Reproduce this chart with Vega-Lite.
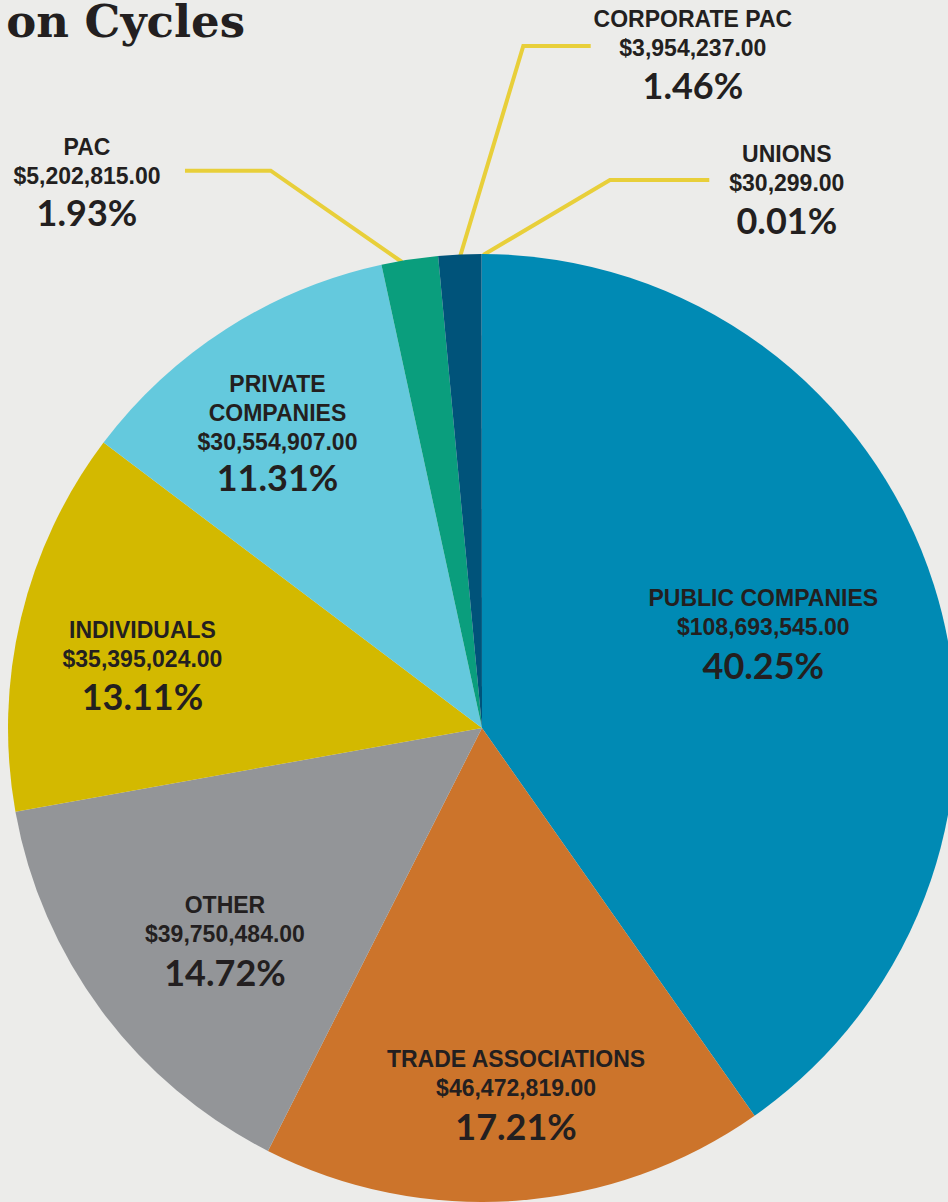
{
  "$schema": "https://vega.github.io/schema/vega-lite/v6.json",
  "width": 964,
  "height": 1456,
  "autosize": "none",
  "padding": {"left": 0, "top": 0, "right": -16, "bottom": -254},
  "background": "#ececea",
  "config": {"view": {"stroke": null}},
  "title": {"text": "on Cycles", "anchor": "start", "frame": "group", "align": "right", "baseline": "alphabetic", "dx": 245, "dy": 86, "font": "DejaVu Serif", "fontWeight": "bold", "fontSize": 45, "color": "#231f20"},
  "datasets": {
    "slices": [
      {"source": "PUBLIC COMPANIES", "amount": 108693545, "share": "40.25%"},
      {"source": "TRADE ASSOCIATIONS", "amount": 46472819, "share": "17.21%"},
      {"source": "OTHER", "amount": 39750484, "share": "14.72%"},
      {"source": "INDIVIDUALS", "amount": 35395024, "share": "13.11%"},
      {"source": "PRIVATE COMPANIES", "amount": 30554907, "share": "11.31%"},
      {"source": "PAC", "amount": 5202815, "share": "1.93%"},
      {"source": "CORPORATE PAC", "amount": 3954237, "share": "1.46%"},
      {"source": "UNIONS", "amount": 30299, "share": "0.01%"}
    ],
    "leaders": [
      {"leader": "PAC", "step": 1, "nx": -0.6266, "ny": 1.1757},
      {"leader": "PAC", "step": 2, "nx": -0.4458, "ny": 1.1757},
      {"leader": "PAC", "step": 3, "nx": -0.1688, "ny": 0.9831},
      {"leader": "CORPORATE PAC", "step": 1, "nx": 0.2293, "ny": 1.4388},
      {"leader": "CORPORATE PAC", "step": 2, "nx": 0.0871, "ny": 1.4388},
      {"leader": "CORPORATE PAC", "step": 3, "nx": -0.0464, "ny": 0.9943},
      {"leader": "UNIONS", "step": 1, "nx": 0.4795, "ny": 1.1561},
      {"leader": "UNIONS", "step": 2, "nx": 0.27, "ny": 1.1561},
      {"leader": "UNIONS", "step": 3, "nx": 0.0027, "ny": 0.9979}
    ]
  },
  "layer": [
    {
      "data": {"name": "leaders"},
      "mark": {"type": "line", "color": "#e8cf3a", "strokeWidth": 4, "strokeCap": "butt", "strokeJoin": "miter"},
      "encoding": {
        "x": {"field": "nx", "type": "quantitative", "scale": {"domain": [-1.01688, 1.01688], "nice": false, "zero": false}, "axis": null},
        "y": {"field": "ny", "type": "quantitative", "scale": {"domain": [-1.53586, 1.53586], "nice": false, "zero": false}, "axis": null},
        "detail": {"field": "leader", "type": "nominal"},
        "order": {"field": "step", "type": "quantitative"}
      }
    },
    {
      "data": {"name": "slices"},
      "encoding": {
        "theta": {"field": "amount", "type": "quantitative", "stack": true},
        "order": {"field": "amount", "type": "quantitative", "sort": "descending"},
        "detail": {"field": "source", "type": "nominal"}
      },
      "layer": [
        {
          "mark": {"type": "arc", "outerRadius": 474, "stroke": null},
          "encoding": {
            "color": {"field": "source", "type": "nominal", "legend": null,
              "scale": {"domain": ["PUBLIC COMPANIES", "TRADE ASSOCIATIONS", "OTHER", "INDIVIDUALS", "PRIVATE COMPANIES", "PAC", "CORPORATE PAC", "UNIONS"],
                        "range": ["#008ab4", "#cc742b", "#939598", "#d3b900", "#64c9dd", "#0a9e7d", "#00537a", "#1a7fa8"]}}
          }
        },

        {"mark": {"type": "text", "radius": 298.6, "dx": -3.4, "dy": -39.3, "font": "Liberation Sans", "fontWeight": "bold", "fontSize": 23, "color": "#231f20", "baseline": "middle"},
         "encoding": {"text": {"condition": {"test": "datum.source === 'PUBLIC COMPANIES'", "field": "source", "type": "nominal"}, "value": ""}}},
        {"mark": {"type": "text", "radius": 298.6, "dx": -3.4, "dy": -10.3, "font": "Liberation Sans", "fontWeight": "bold", "fontSize": 23, "color": "#231f20", "baseline": "middle"},
         "encoding": {"text": {"condition": {"test": "datum.source === 'PUBLIC COMPANIES'", "field": "amount", "type": "quantitative", "format": "$,.2f"}, "value": ""}}},
        {"mark": {"type": "text", "radius": 298.6, "dx": -3.4, "dy": 29.7, "font": "Lato", "fontWeight": "bold", "fontSize": 36, "color": "#231f20", "baseline": "middle"},
         "encoding": {"text": {"condition": {"test": "datum.source === 'PUBLIC COMPANIES'", "field": "share", "type": "nominal"}, "value": ""}}},

        {"mark": {"type": "text", "radius": 362.9, "dx": 7.9, "dy": -29.7, "font": "Liberation Sans", "fontWeight": "bold", "fontSize": 23, "color": "#231f20", "baseline": "middle"},
         "encoding": {"text": {"condition": {"test": "datum.source === 'TRADE ASSOCIATIONS'", "field": "source", "type": "nominal"}, "value": ""}}},
        {"mark": {"type": "text", "radius": 362.9, "dx": 7.9, "dy": -0.7, "font": "Liberation Sans", "fontWeight": "bold", "fontSize": 23, "color": "#231f20", "baseline": "middle"},
         "encoding": {"text": {"condition": {"test": "datum.source === 'TRADE ASSOCIATIONS'", "field": "amount", "type": "quantitative", "format": "$,.2f"}, "value": ""}}},
        {"mark": {"type": "text", "radius": 362.9, "dx": 7.9, "dy": 39.3, "font": "Lato", "fontWeight": "bold", "fontSize": 36, "color": "#231f20", "baseline": "middle"},
         "encoding": {"text": {"condition": {"test": "datum.source === 'TRADE ASSOCIATIONS'", "field": "share", "type": "nominal"}, "value": ""}}},

        {"mark": {"type": "text", "radius": 330, "dx": 7.7, "dy": -19.1, "font": "Liberation Sans", "fontWeight": "bold", "fontSize": 23, "color": "#231f20", "baseline": "middle"},
         "encoding": {"text": {"condition": {"test": "datum.source === 'OTHER'", "field": "source", "type": "nominal"}, "value": ""}}},
        {"mark": {"type": "text", "radius": 330, "dx": 7.7, "dy": 9.9, "font": "Liberation Sans", "fontWeight": "bold", "fontSize": 23, "color": "#231f20", "baseline": "middle"},
         "encoding": {"text": {"condition": {"test": "datum.source === 'OTHER'", "field": "amount", "type": "quantitative", "format": "$,.2f"}, "value": ""}}},
        {"mark": {"type": "text", "radius": 330, "dx": 7.7, "dy": 49.9, "font": "Lato", "fontWeight": "bold", "fontSize": 36, "color": "#231f20", "baseline": "middle"},
         "encoding": {"text": {"condition": {"test": "datum.source === 'OTHER'", "field": "share", "type": "nominal"}, "value": ""}}},

        {"mark": {"type": "text", "radius": 346.2, "dx": -2.8, "dy": -16.5, "font": "Liberation Sans", "fontWeight": "bold", "fontSize": 23, "color": "#231f20", "baseline": "middle"},
         "encoding": {"text": {"condition": {"test": "datum.source === 'INDIVIDUALS'", "field": "source", "type": "nominal"}, "value": ""}}},
        {"mark": {"type": "text", "radius": 346.2, "dx": -2.8, "dy": 12.5, "font": "Liberation Sans", "fontWeight": "bold", "fontSize": 23, "color": "#231f20", "baseline": "middle"},
         "encoding": {"text": {"condition": {"test": "datum.source === 'INDIVIDUALS'", "field": "amount", "type": "quantitative", "format": "$,.2f"}, "value": ""}}},
        {"mark": {"type": "text", "radius": 346.2, "dx": -2.8, "dy": 51.5, "font": "Lato", "fontWeight": "bold", "fontSize": 36, "color": "#231f20", "baseline": "middle"},
         "encoding": {"text": {"condition": {"test": "datum.source === 'INDIVIDUALS'", "field": "share", "type": "nominal"}, "value": ""}}},

        {"mark": {"type": "text", "radius": 350.5, "dx": -15.6, "dy": -47.7, "font": "Liberation Sans", "fontWeight": "bold", "fontSize": 23, "color": "#231f20", "baseline": "middle", "lineBreak": " ", "lineHeight": 28.5},
         "encoding": {"text": {"condition": {"test": "datum.source === 'PRIVATE COMPANIES'", "field": "source", "type": "nominal"}, "value": ""}}},
        {"mark": {"type": "text", "radius": 350.5, "dx": -15.6, "dy": 10.6, "font": "Liberation Sans", "fontWeight": "bold", "fontSize": 23, "color": "#231f20", "baseline": "middle"},
         "encoding": {"text": {"condition": {"test": "datum.source === 'PRIVATE COMPANIES'", "field": "amount", "type": "quantitative", "format": "$,.2f"}, "value": ""}}},
        {"mark": {"type": "text", "radius": 350.5, "dx": -15.6, "dy": 47.3, "font": "Lato", "fontWeight": "bold", "fontSize": 36, "color": "#231f20", "baseline": "middle"},
         "encoding": {"text": {"condition": {"test": "datum.source === 'PRIVATE COMPANIES'", "field": "share", "type": "nominal"}, "value": ""}}},

        {"mark": {"type": "text", "radius": 474, "dx": -322.7, "dy": -111.2, "font": "Liberation Sans", "fontWeight": "bold", "fontSize": 23, "color": "#231f20", "baseline": "middle"},
         "encoding": {"text": {"condition": {"test": "datum.source === 'PAC'", "field": "source", "type": "nominal"}, "value": ""}}},
        {"mark": {"type": "text", "radius": 474, "dx": -322.7, "dy": -82.2, "font": "Liberation Sans", "fontWeight": "bold", "fontSize": 23, "color": "#231f20", "baseline": "middle"},
         "encoding": {"text": {"condition": {"test": "datum.source === 'PAC'", "field": "amount", "type": "quantitative", "format": "$,.2f"}, "value": ""}}},
        {"mark": {"type": "text", "radius": 474, "dx": -322.7, "dy": -44.5, "font": "Lato", "fontWeight": "bold", "fontSize": 36, "color": "#231f20", "baseline": "middle"},
         "encoding": {"text": {"condition": {"test": "datum.source === 'PAC'", "field": "share", "type": "nominal"}, "value": ""}}},

        {"mark": {"type": "text", "radius": 474, "dx": 233, "dy": -234.5, "font": "Liberation Sans", "fontWeight": "bold", "fontSize": 23, "color": "#231f20", "baseline": "middle"},
         "encoding": {"text": {"condition": {"test": "datum.source === 'CORPORATE PAC'", "field": "source", "type": "nominal"}, "value": ""}}},
        {"mark": {"type": "text", "radius": 474, "dx": 233, "dy": -205.2, "font": "Liberation Sans", "fontWeight": "bold", "fontSize": 23, "color": "#231f20", "baseline": "middle"},
         "encoding": {"text": {"condition": {"test": "datum.source === 'CORPORATE PAC'", "field": "amount", "type": "quantitative", "format": "$,.2f"}, "value": ""}}},
        {"mark": {"type": "text", "radius": 474, "dx": 233, "dy": -166.2, "font": "Lato", "fontWeight": "bold", "fontSize": 36, "color": "#231f20", "baseline": "middle"},
         "encoding": {"text": {"condition": {"test": "datum.source === 'CORPORATE PAC'", "field": "share", "type": "nominal"}, "value": ""}}},

        {"mark": {"type": "text", "radius": 474, "dx": 305, "dy": -99, "font": "Liberation Sans", "fontWeight": "bold", "fontSize": 23, "color": "#231f20", "baseline": "middle"},
         "encoding": {"text": {"condition": {"test": "datum.source === 'UNIONS'", "field": "source", "type": "nominal"}, "value": ""}}},
        {"mark": {"type": "text", "radius": 474, "dx": 305, "dy": -70, "font": "Liberation Sans", "fontWeight": "bold", "fontSize": 23, "color": "#231f20", "baseline": "middle"},
         "encoding": {"text": {"condition": {"test": "datum.source === 'UNIONS'", "field": "amount", "type": "quantitative", "format": "$,.2f"}, "value": ""}}},
        {"mark": {"type": "text", "radius": 474, "dx": 305, "dy": -31.3, "font": "Lato", "fontWeight": "bold", "fontSize": 36, "color": "#231f20", "baseline": "middle"},
         "encoding": {"text": {"condition": {"test": "datum.source === 'UNIONS'", "field": "share", "type": "nominal"}, "value": ""}}}
      ]
    }
  ]
}
